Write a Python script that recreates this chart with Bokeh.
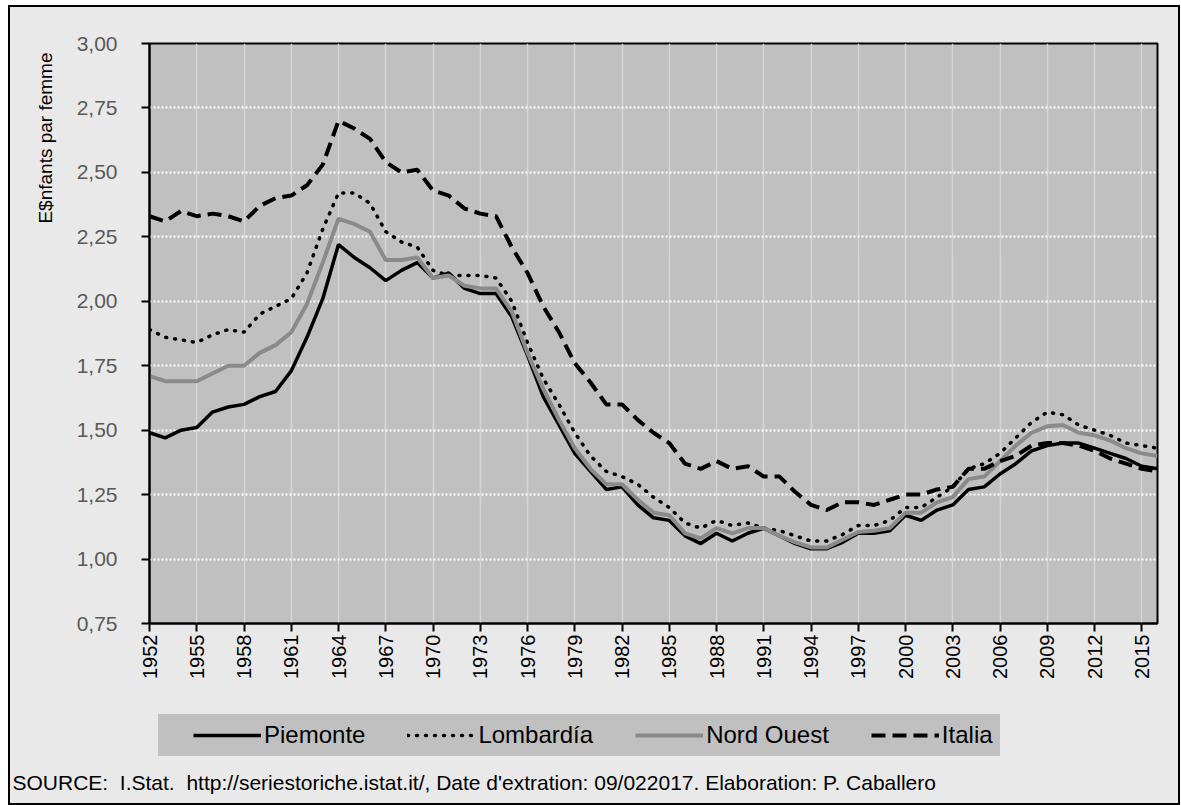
import math
from bokeh.plotting import figure
from bokeh.layouts import column
from bokeh.models import Range1d, FixedTicker, Legend, LegendItem, Title
from bokeh.embed import file_html
from bokeh.resources import INLINE

years = list(range(1952, 2017))

piemonte = [1.49, 1.47, 1.50, 1.51, 1.57, 1.59, 1.60, 1.63, 1.65, 1.73,
            1.86, 2.01, 2.22, 2.17, 2.13, 2.08, 2.12, 2.15, 2.09, 2.11,
            2.05, 2.03, 2.03, 1.94, 1.79, 1.63, 1.52, 1.41, 1.34, 1.27,
            1.28, 1.21, 1.16, 1.15, 1.09, 1.06, 1.10, 1.07, 1.10, 1.12,
            1.09, 1.06, 1.04, 1.04, 1.065, 1.10, 1.10, 1.11, 1.17, 1.15,
            1.19, 1.21, 1.27, 1.28, 1.33, 1.37, 1.42, 1.44, 1.45, 1.45,
            1.43, 1.41, 1.39, 1.36, 1.35]

lombardia = [1.89, 1.86, 1.85, 1.84, 1.87, 1.89, 1.88, 1.95, 1.98, 2.01,
             2.11, 2.28, 2.42, 2.42, 2.38, 2.27, 2.23, 2.21, 2.12, 2.10,
             2.10, 2.10, 2.09, 2.00, 1.84, 1.70, 1.60, 1.49, 1.40, 1.34,
             1.32, 1.29, 1.24, 1.20, 1.14, 1.12, 1.15, 1.13, 1.14, 1.12,
             1.11, 1.09, 1.07, 1.07, 1.095, 1.13, 1.13, 1.15, 1.20, 1.20,
             1.24, 1.28, 1.35, 1.37, 1.41, 1.47, 1.53, 1.57, 1.56, 1.52,
             1.50, 1.48, 1.45, 1.44, 1.43]

nord_ouest = [1.71, 1.69, 1.69, 1.69, 1.72, 1.75, 1.75, 1.80, 1.83, 1.88,
              1.99, 2.15, 2.32, 2.30, 2.27, 2.16, 2.16, 2.17, 2.09, 2.10,
              2.06, 2.05, 2.05, 1.96, 1.80, 1.66, 1.54, 1.43, 1.35, 1.29,
              1.29, 1.23, 1.18, 1.17, 1.10, 1.08, 1.12, 1.10, 1.12, 1.12,
              1.09, 1.065, 1.045, 1.045, 1.075, 1.105, 1.11, 1.12, 1.18, 1.18,
              1.22, 1.24, 1.31, 1.32, 1.38, 1.44, 1.49, 1.515, 1.52, 1.49,
              1.48, 1.46, 1.43, 1.41, 1.40]

italia = [2.33, 2.31, 2.35, 2.33, 2.34, 2.33, 2.31, 2.37, 2.40, 2.41,
          2.45, 2.53, 2.70, 2.67, 2.63, 2.54, 2.50, 2.51, 2.43, 2.41,
          2.36, 2.34, 2.33, 2.21, 2.11, 1.98, 1.88, 1.76, 1.685, 1.60,
          1.60, 1.54, 1.49, 1.45, 1.37, 1.35, 1.38, 1.35, 1.36, 1.32,
          1.32, 1.26, 1.21, 1.19, 1.22, 1.22, 1.21, 1.23, 1.25, 1.25,
          1.27, 1.28, 1.35, 1.35, 1.38, 1.40, 1.44, 1.45, 1.45, 1.44,
          1.42, 1.39, 1.37, 1.35, 1.34]

series_names = ["Piemonte", "Lombardía", "Nord Ouest", "Italia"]

x_ticks = list(range(1952, 2016, 3))
x_tick_labels = [str(t) for t in x_ticks]
y_ticks = [0.75, 1.00, 1.25, 1.50, 1.75, 2.00, 2.25, 2.50, 2.75, 3.00]
y_tick_labels = ["0,75", "1,00", "1,25", "1,50", "1,75", "2,00", "2,25", "2,50", "2,75", "3,00"]

y_title = "E$nfants par femme"
source_text = ("SOURCE:\u00a0 I.Stat.\u00a0 http://seriestoriche.istat.it/, "
               "Date d'extration: 09/022017. Elaboration: P. Caballero")

FONT = "Liberation Sans"
BG = "#e9e9e9"

series_values = [piemonte, lombardia, nord_ouest, italia]
styles = [dict(line_color="black", line_width=3.5),
          dict(line_color="black", line_width=3.5, line_dash="1 8", line_cap="round"),
          dict(line_color="#8a8a8a", line_width=4),
          dict(line_color="black", line_width=4, line_dash="14 7")]

# ---------------- main chart ----------------
p = figure(width=1168, height=690, output_backend="svg", toolbar_location=None,
           x_range=Range1d(1952, 2016), y_range=Range1d(0.75, 3.0),
           min_border_left=139, min_border_right=21, min_border_top=36,
           min_border_bottom=74)
p.background_fill_color = "#c0c0c0"
p.border_fill_color = BG
p.outline_line_color = "black"
p.outline_line_width = 2

p.xaxis.ticker = FixedTicker(ticks=x_ticks)
p.xaxis.major_label_overrides = {t: l for t, l in zip(x_ticks, x_tick_labels)}
p.xaxis.major_label_orientation = math.pi / 2
p.xaxis.major_label_text_font = FONT
p.xaxis.major_label_text_font_size = "20px"
p.xaxis.major_label_text_color = "black"
p.xaxis.major_label_standoff = 3

p.yaxis.ticker = FixedTicker(ticks=y_ticks)
p.yaxis.major_label_overrides = {t: l for t, l in zip(y_ticks, y_tick_labels)}
p.yaxis.major_label_text_font = FONT
p.yaxis.major_label_text_font_size = "21px"
p.yaxis.major_label_text_color = "#595959"
p.yaxis.major_label_standoff = 24

for ax in (p.xaxis, p.yaxis):
    ax.axis_line_color = "black"
    ax.axis_line_width = 2
    ax.major_tick_line_color = "black"
    ax.major_tick_line_width = 2
    ax.major_tick_out = 8
    ax.major_tick_in = 0
    ax.minor_tick_line_color = None

p.xgrid.grid_line_color = "#d6d6d6"
p.xgrid.grid_line_width = 1.5
p.ygrid.grid_line_color = "white"
p.ygrid.grid_line_width = 2
p.ygrid.grid_line_dash = "2 2"

for vals, st in zip(series_values, styles):
    p.line(years, vals, **st)

p.add_layout(Title(text=y_title, align="right", text_font=FONT,
                   text_font_size="19px", text_font_style="normal",
                   text_color="black", standoff=36, offset=9), "left")

# ---------------- legend + source strip ----------------
# frame aligned with the chart's frame (same left/right borders)
p2 = figure(width=1168, height=106, output_backend="svg", toolbar_location=None,
            x_range=Range1d(0, 1008), y_range=Range1d(0, 69),
            min_border_left=139, min_border_right=21, min_border_top=0,
            min_border_bottom=37, x_axis_location=None, y_axis_location=None)
p2.background_fill_color = BG
p2.border_fill_color = BG
p2.outline_line_color = None
p2.xgrid.visible = False
p2.ygrid.visible = False

# same series, drawn on ranges where they fall outside the view: they only feed the legend keys
keys = [p2.line(years, vals, **st) for vals, st in zip(series_values, styles)]

legend = Legend(items=[LegendItem(label=n, renderers=[r]) for n, r in zip(series_names, keys)],
                location=(9, 10), orientation="horizontal",
                background_fill_color="#c0c0c0", background_fill_alpha=1,
                border_line_alpha=0,
                label_text_font=FONT, label_text_font_size="24px",
                label_text_color="black",
                glyph_width=68, glyph_height=20, spacing=42, label_standoff=3,
                padding=7, margin=0)
try:
    legend.title = " "
    legend.title_text_font_size = "24px"
    legend.title_standoff = 0
    legend.title_location = "left"
except Exception:
    legend.title = None
p2.add_layout(legend)

p2.add_layout(Title(text=source_text, align="left", text_font=FONT,
                    text_font_size="21px", text_font_style="normal",
                    text_color="black", standoff=5, offset=-137), "below")

layout = column(p, p2, spacing=0)
layout.margin = (5, 0, 0, 8)
layout.styles = {"border": "2px solid black", "background-color": BG}

open("out.html", "w").write(file_html(layout, INLINE))
